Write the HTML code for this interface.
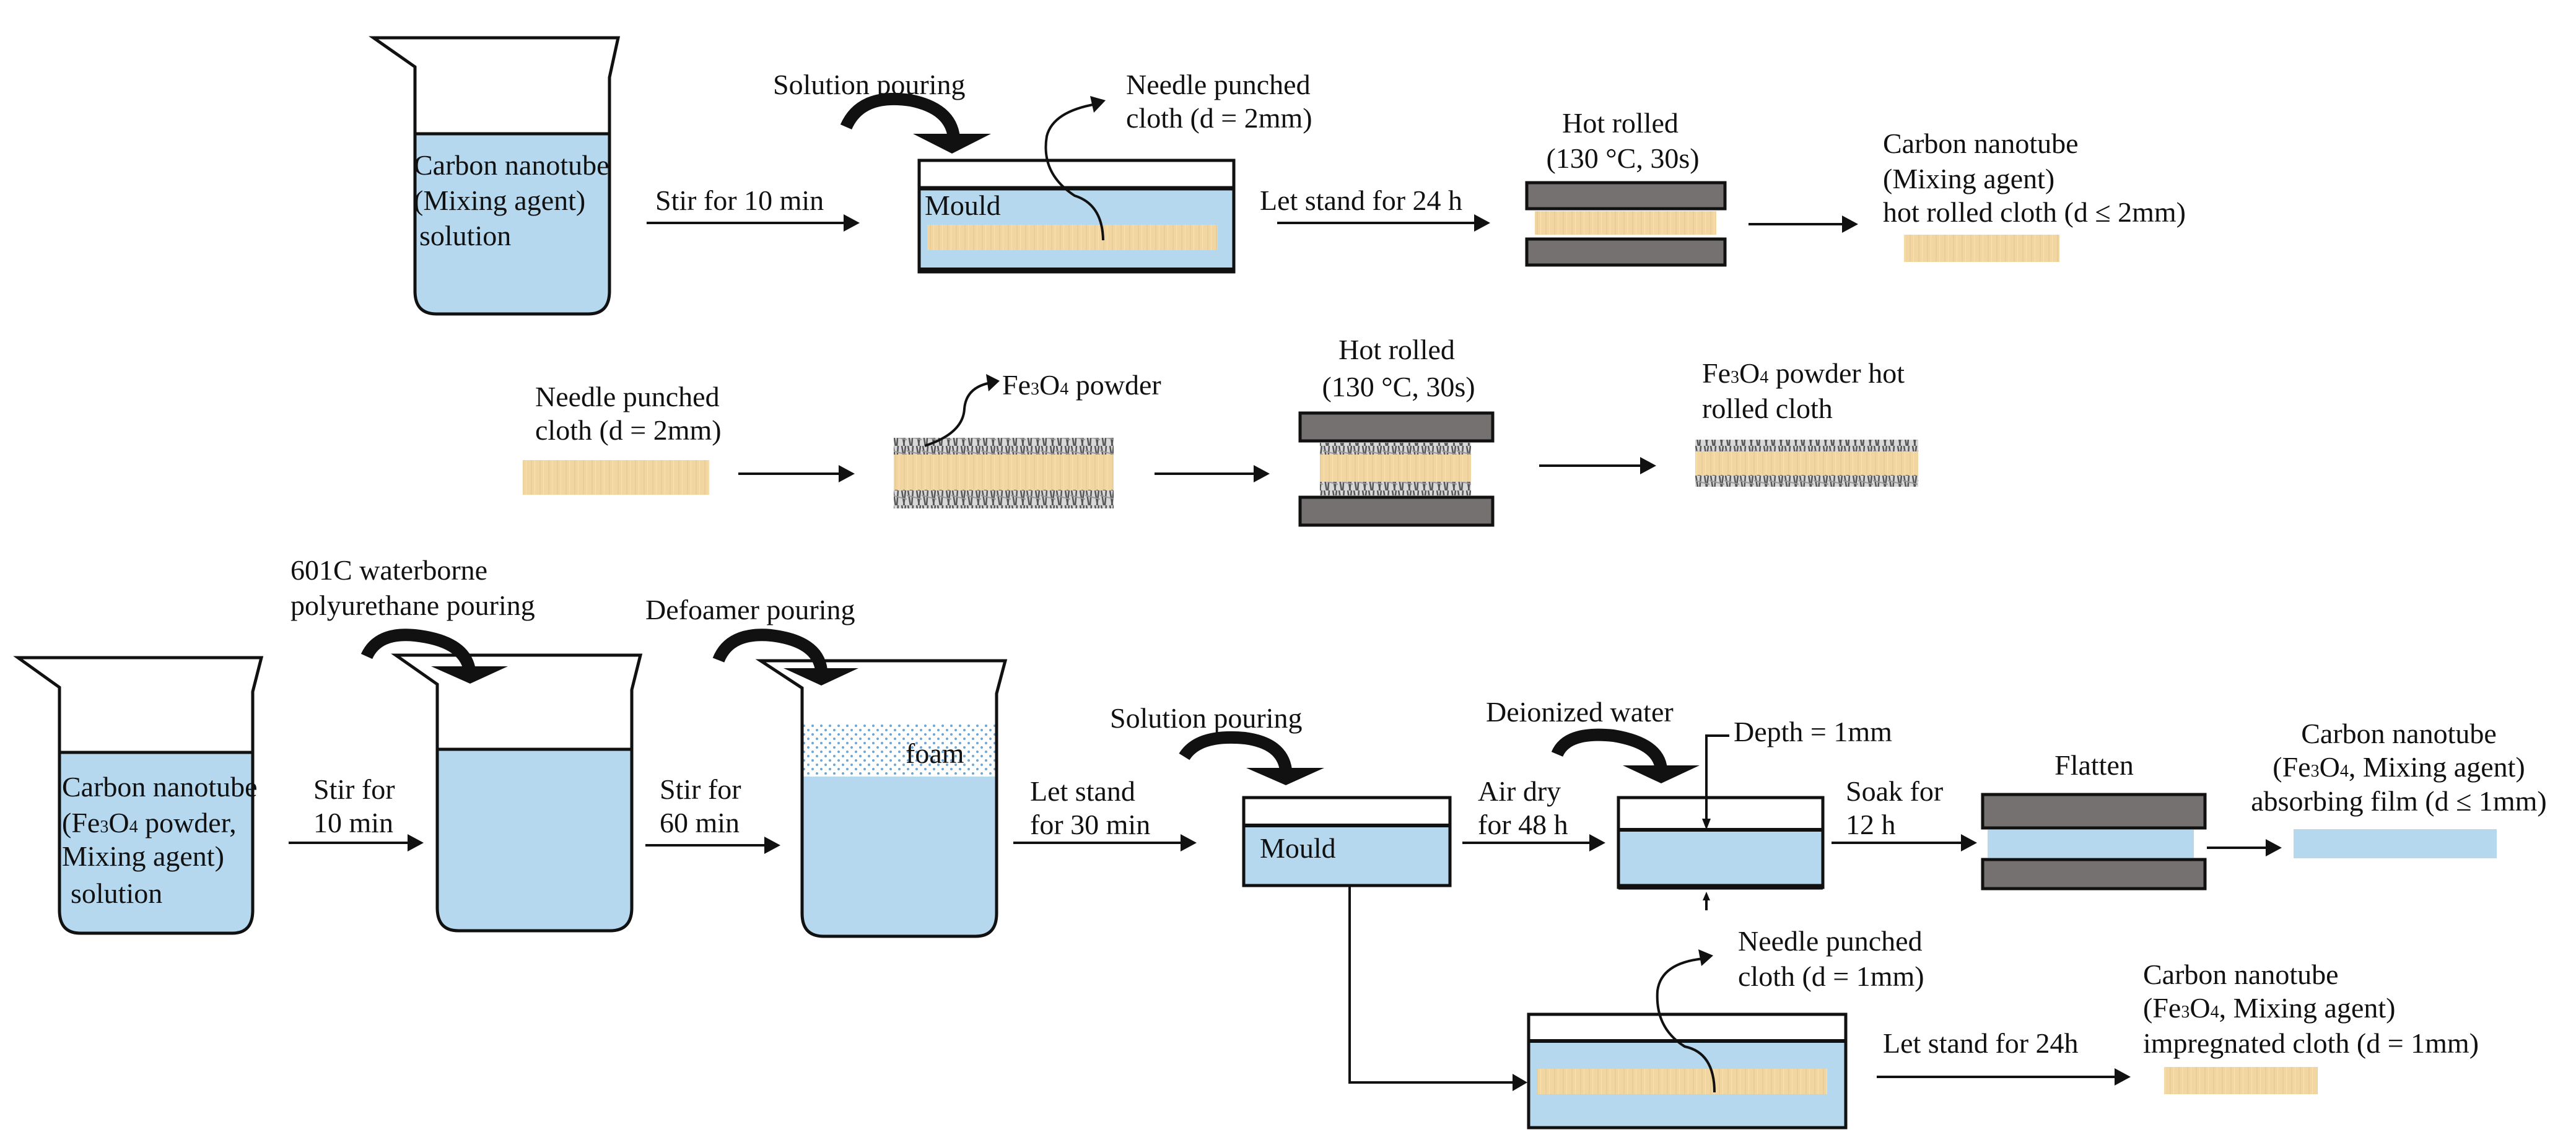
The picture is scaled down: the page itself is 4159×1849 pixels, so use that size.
<!DOCTYPE html>
<html><head><meta charset="utf-8"><style>
html,body{margin:0;padding:0;background:#fff}
svg{display:block;font-family:"Liberation Serif","Times New Roman",serif}
svg text{font-family:"Liberation Serif","Times New Roman",serif;font-size:46px;fill:#111}
</style></head><body>
<svg width="4159" height="1849" viewBox="0 0 4159 1849" xmlns="http://www.w3.org/2000/svg" font-family="Liberation Serif, serif" font-size="46">
<defs>
<pattern id="tan" width="14" height="40" patternUnits="userSpaceOnUse">
<rect width="14" height="40" fill="#f2d6a2"/>
<rect x="3" width="2" height="40" fill="#ebcd98"/>
<rect x="9" width="1" height="40" fill="#f7e2b8"/>
</pattern>
<pattern id="gray" width="24" height="24" patternUnits="userSpaceOnUse">
<rect width="24" height="24" fill="#d8d8d8"/>
<path d="M2 0 L6 24 M10 0 L8 24 M16 0 L20 24 M22 0 L19 24" stroke="#555" stroke-width="2.5"/>
<path d="M0 8 L24 14" stroke="#999" stroke-width="2"/>
</pattern>
<pattern id="dots" width="14" height="14" patternUnits="userSpaceOnUse">
<rect width="14" height="14" fill="#fff"/>
<circle cx="3" cy="3" r="2" fill="#6fa6d6"/>
<circle cx="10" cy="10" r="2" fill="#6fa6d6"/>
</pattern>
</defs>
<style>
.ln{stroke:#111;stroke-width:4;fill:none}
.bk{stroke:#111;stroke-width:5;fill:none}
.bl{fill:#b5d8ef}
.pl{fill:#767171;stroke:#111;stroke-width:5}
</style>

<!-- ========== ROW 1 ========== -->
<path class="bl" d="M670,216 L984,216 L984,470 Q984,507 950,507 L705,507 Q670,507 670,470 Z"/>
<path class="bk" d="M670,216 L984,216"/>
<path class="bk" d="M603,61 L998,61 L984,125 L984,470 Q984,507 950,507 L705,507 Q670,507 670,470 L670,108 Z"/>
<text x="668" y="282">Carbon nanotube</text>
<text x="668" y="339">(Mixing agent)</text>
<text x="677" y="396">solution</text>

<text x="1058" y="339">Stir for 10 min</text>
<line class="ln" x1="1044" y1="360" x2="1365" y2="360"/>
<polygon points="1362,346 1388,360 1362,374" fill="#111"/>

<text x="1248" y="152">Solution pouring</text>
<path d="M1366,205 Q1390,150 1470,162 Q1535,175 1540,222" stroke="#111" stroke-width="20" fill="none"/>
<polygon points="1474,216 1600,216 1537,248" fill="#111"/>

<rect x="1484" y="259" width="508" height="180" fill="#fff"/>
<rect class="bl" x="1484" y="304" width="508" height="132"/>
<rect x="1497" y="363" width="469" height="41" fill="url(#tan)"/>
<path class="bk" d="M1484,259 L1992,259 L1992,439 L1484,439 Z"/>
<line x1="1484" y1="304" x2="1992" y2="304" stroke="#111" stroke-width="7"/>
<line x1="1484" y1="436" x2="1992" y2="436" stroke="#111" stroke-width="8"/>
<text x="1493" y="347">Mould</text>
<path class="ln" stroke-width="3" d="M1781,388 Q1780,330 1735,316 Q1680,280 1690,220 Q1700,180 1770,168"/>
<polygon points="1760,155 1785,162 1766,182" fill="#111"/>
<text x="1818" y="152">Needle punched</text>
<text x="1818" y="206">cloth (d = 2mm)</text>

<text x="2034" y="339">Let stand for 24 h</text>
<line class="ln" x1="2062" y1="360" x2="2385" y2="360"/>
<polygon points="2380,346 2406,360 2380,374" fill="#111"/>

<text x="2616" y="214" text-anchor="middle">Hot rolled</text>
<text x="2620" y="271" text-anchor="middle">(130 °C, 30s)</text>
<rect class="pl" x="2465" y="295" width="320" height="42"/>
<rect x="2478" y="341" width="293" height="38" fill="url(#tan)"/>
<rect class="pl" x="2465" y="386" width="320" height="42"/>

<line class="ln" x1="2823" y1="362" x2="2978" y2="362"/>
<polygon points="2974,348 3000,362 2974,376" fill="#111"/>

<text x="3040" y="247">Carbon nanotube</text>
<text x="3040" y="304">(Mixing agent)</text>
<text x="3040" y="358">hot rolled cloth (d ≤ 2mm)</text>
<rect x="3074" y="379" width="251" height="44" fill="url(#tan)"/>

<!-- ========== ROW 2 ========== -->
<text x="864" y="656">Needle punched</text>
<text x="864" y="710">cloth (d = 2mm)</text>
<rect x="844" y="743" width="301" height="56" fill="url(#tan)"/>
<line class="ln" x1="1192" y1="765" x2="1358" y2="765"/>
<polygon points="1354,751 1380,765 1354,779" fill="#111"/>

<rect x="1443" y="707" width="355" height="27" fill="url(#gray)"/>
<rect x="1443" y="734" width="355" height="57" fill="url(#tan)"/>
<rect x="1443" y="791" width="355" height="30" fill="url(#gray)"/>
<path class="ln" stroke-width="3" d="M1493,720 Q1555,700 1557,660 Q1560,625 1600,618"/>
<polygon points="1592,604 1614,615 1596,632" fill="#111"/>
<text x="1618" y="637">Fe<tspan font-size="28">3</tspan>O<tspan font-size="28">4</tspan> powder</text>

<line class="ln" x1="1864" y1="765" x2="2028" y2="765"/>
<polygon points="2024,751 2050,765 2024,779" fill="#111"/>

<text x="2255" y="580" text-anchor="middle">Hot rolled</text>
<text x="2258" y="640" text-anchor="middle">(130 °C, 30s)</text>
<rect class="pl" x="2099" y="667" width="311" height="45"/>
<rect x="2131" y="715" width="244" height="19" fill="url(#gray)"/>
<rect x="2131" y="734" width="244" height="44" fill="url(#tan)"/>
<rect x="2131" y="778" width="244" height="22" fill="url(#gray)"/>
<rect class="pl" x="2099" y="803" width="311" height="45"/>

<line class="ln" x1="2485" y1="752" x2="2652" y2="752"/>
<polygon points="2648,738 2674,752 2648,766" fill="#111"/>

<text x="2748" y="618">Fe<tspan font-size="28">3</tspan>O<tspan font-size="28">4</tspan> powder hot</text>
<text x="2748" y="675">rolled cloth</text>
<rect x="2737" y="710" width="360" height="19" fill="url(#gray)"/>
<rect x="2737" y="729" width="360" height="38" fill="url(#tan)"/>
<rect x="2737" y="767" width="360" height="19" fill="url(#gray)"/>

<!-- ========== ROW 3 ========== -->
<path class="bl" d="M96,1215 L408,1215 L408,1470 Q408,1507 375,1507 L130,1507 Q96,1507 96,1470 Z"/>
<path class="bk" d="M96,1215 L408,1215"/>
<path class="bk" d="M29,1062 L422,1062 L408,1117 L408,1470 Q408,1507 375,1507 L130,1507 Q96,1507 96,1470 L96,1110 Z"/>
<text x="100" y="1286">Carbon nanotube</text>
<text x="100" y="1344">(Fe<tspan font-size="28">3</tspan>O<tspan font-size="28">4</tspan> powder,</text>
<text x="100" y="1398">Mixing agent)</text>
<text x="114" y="1458">solution</text>

<text x="506" y="1290">Stir for</text>
<text x="506" y="1344">10 min</text>
<line class="ln" x1="466" y1="1361" x2="662" y2="1361"/>
<polygon points="658,1347 684,1361 658,1375" fill="#111"/>

<text x="469" y="936">601C waterborne</text>
<text x="469" y="993">polyurethane pouring</text>
<path class="bl" d="M706,1210 L1020,1210 L1020,1466 Q1020,1503 985,1503 L740,1503 Q706,1503 706,1466 Z"/>
<path class="bk" d="M706,1210 L1020,1210"/>
<path class="bk" d="M639,1058 L1034,1058 L1020,1114 L1020,1466 Q1020,1503 985,1503 L740,1503 Q706,1503 706,1466 L706,1105 Z"/>
<path d="M592,1060 Q610,1020 670,1026 Q750,1035 758,1082" stroke="#111" stroke-width="20" fill="none"/>
<polygon points="696,1076 820,1076 759,1104" fill="#111"/>

<text x="1065" y="1290">Stir for</text>
<text x="1065" y="1344">60 min</text>
<line class="ln" x1="1042" y1="1365" x2="1238" y2="1365"/>
<polygon points="1234,1351 1260,1365 1234,1379" fill="#111"/>

<text x="1042" y="1000">Defoamer pouring</text>
<rect x="1297" y="1168" width="310" height="86" fill="url(#dots)"/>
<path class="bl" d="M1295,1254 L1609,1254 L1609,1475 Q1609,1512 1575,1512 L1330,1512 Q1295,1512 1295,1475 Z"/>
<path class="bk" d="M1228,1067 L1623,1067 L1609,1120 L1609,1475 Q1609,1512 1575,1512 L1330,1512 Q1295,1512 1295,1475 L1295,1111 Z"/>
<text x="1462" y="1232">foam</text>
<path d="M1160,1066 Q1178,1020 1245,1026 Q1320,1035 1326,1082" stroke="#111" stroke-width="20" fill="none"/>
<polygon points="1265,1079 1386,1079 1326,1107" fill="#111"/>

<text x="1663" y="1293">Let stand</text>
<text x="1663" y="1347">for 30 min</text>
<line class="ln" x1="1636" y1="1361" x2="1910" y2="1361"/>
<polygon points="1906,1347 1932,1361 1906,1375" fill="#111"/>

<text x="1792" y="1175">Solution pouring</text>
<path d="M1912,1222 Q1935,1185 2010,1192 Q2070,1200 2076,1243" stroke="#111" stroke-width="20" fill="none"/>
<polygon points="2012,1240 2138,1240 2076,1268" fill="#111"/>

<rect x="2008" y="1288" width="333" height="142" fill="#fff"/>
<rect class="bl" x="2008" y="1333" width="333" height="97"/>
<path class="bk" d="M2008,1288 L2341,1288 L2341,1430 L2008,1430 Z"/>
<line x1="2008" y1="1333" x2="2341" y2="1333" stroke="#111" stroke-width="6"/>
<text x="2034" y="1385">Mould</text>

<text x="2386" y="1293">Air dry</text>
<text x="2386" y="1347">for 48 h</text>
<line class="ln" x1="2361" y1="1361" x2="2570" y2="1361"/>
<polygon points="2566,1347 2592,1361 2566,1375" fill="#111"/>

<text x="2399" y="1165">Deionized water</text>
<path d="M2514,1218 Q2530,1180 2605,1188 Q2678,1200 2682,1242" stroke="#111" stroke-width="20" fill="none"/>
<polygon points="2620,1236 2744,1236 2682,1265" fill="#111"/>

<rect x="2613" y="1288" width="330" height="145" fill="#fff"/>
<rect class="bl" x="2613" y="1340" width="330" height="90"/>
<path class="bk" d="M2613,1288 L2943,1288 L2943,1433 L2613,1433 Z"/>
<line x1="2613" y1="1340" x2="2943" y2="1340" stroke="#111" stroke-width="6"/>
<line x1="2613" y1="1432" x2="2943" y2="1432" stroke="#111" stroke-width="9"/>
<path class="ln" stroke-width="3" d="M2792,1188 L2755,1188 L2755,1330"/>
<polygon points="2748,1322 2762,1322 2755,1340" fill="#111"/>
<line class="ln" stroke-width="3" x1="2755" y1="1470" x2="2755" y2="1450"/>
<polygon points="2749,1454 2761,1454 2755,1440" fill="#111"/>
<text x="2799" y="1197">Depth = 1mm</text>

<text x="2980" y="1293">Soak for</text>
<text x="2980" y="1347">12 h</text>
<line class="ln" x1="2957" y1="1361" x2="3170" y2="1361"/>
<polygon points="3166,1347 3192,1361 3166,1375" fill="#111"/>

<text x="3381" y="1251" text-anchor="middle">Flatten</text>
<rect class="pl" x="3201" y="1283" width="359" height="54"/>
<rect class="bl" x="3209" y="1340" width="333" height="45"/>
<rect class="pl" x="3201" y="1388" width="359" height="47"/>

<line class="ln" x1="3563" y1="1369" x2="3662" y2="1369"/>
<polygon points="3658,1355 3684,1369 3658,1383" fill="#111"/>

<text x="3873" y="1200" text-anchor="middle">Carbon nanotube</text>
<text x="3873" y="1254" text-anchor="middle">(Fe<tspan font-size="28">3</tspan>O<tspan font-size="28">4</tspan>, Mixing agent)</text>
<text x="3873" y="1309" text-anchor="middle">absorbing film  (d ≤ 1mm)</text>
<rect class="bl" x="3703" y="1339" width="328" height="47"/>

<path class="ln" stroke-width="3" d="M2179,1430 L2179,1748 L2445,1748"/>
<polygon points="2442,1734 2466,1748 2442,1762" fill="#111"/>

<rect x="2468" y="1638" width="512" height="183" fill="#fff"/>
<rect class="bl" x="2468" y="1681" width="512" height="140"/>
<rect x="2482" y="1726" width="468" height="41" fill="url(#tan)"/>
<path class="bk" d="M2468,1638 L2980,1638 L2980,1821 L2468,1821 Z"/>
<line x1="2468" y1="1681" x2="2980" y2="1681" stroke="#111" stroke-width="6"/>
<path class="ln" stroke-width="3" d="M2768,1764 Q2768,1700 2720,1690 Q2672,1660 2676,1600 Q2682,1555 2750,1548"/>
<polygon points="2742,1533 2766,1543 2747,1560" fill="#111"/>
<text x="2806" y="1535">Needle punched</text>
<text x="2806" y="1592">cloth (d = 1mm)</text>

<text x="3040" y="1700">Let stand for 24h</text>
<line class="ln" x1="3030" y1="1739" x2="3418" y2="1739"/>
<polygon points="3414,1725 3440,1739 3414,1753" fill="#111"/>

<text x="3460" y="1589">Carbon nanotube</text>
<text x="3460" y="1643">(Fe<tspan font-size="28">3</tspan>O<tspan font-size="28">4</tspan>, Mixing agent)</text>
<text x="3460" y="1700">impregnated cloth (d = 1mm)</text>
<rect x="3494" y="1723" width="248" height="44" fill="url(#tan)"/>
</svg>
</body></html>
